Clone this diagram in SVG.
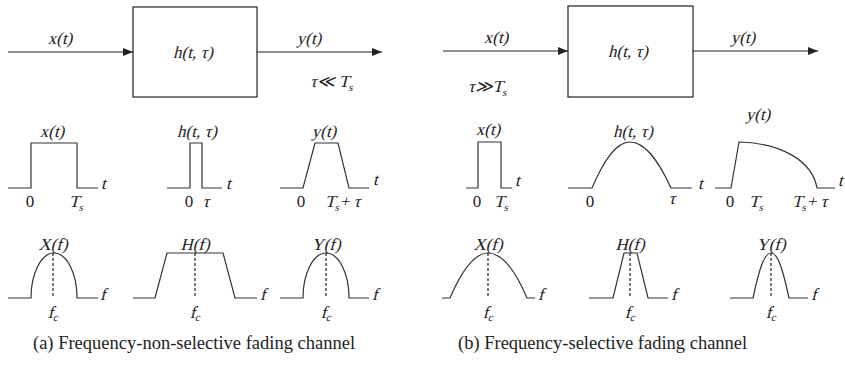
<svg xmlns="http://www.w3.org/2000/svg" width="845" height="375" viewBox="0 0 845 375">
<style>
.bg{fill:#fff}
.ln{fill:none;stroke:#222;stroke-width:1.2}
.sg{fill:none;stroke:#333;stroke-width:1.2}
.ds{fill:none;stroke:#222;stroke-width:1.2;stroke-dasharray:3,2}
.box{fill:#fff;stroke:#222;stroke-width:1.2}
text{font-family:'Liberation Serif','DejaVu Serif',serif;fill:#222}
.it{font-size:17px}
.rm{font-size:17px}
.cap{font-size:18.5px}
.sub{font-size:11px}
.m{text-anchor:middle}
</style>
<defs>
<marker id="arr" viewBox="0 0 10 8" refX="10" refY="4" markerWidth="10" markerHeight="8" markerUnits="userSpaceOnUse" orient="auto">
<path d="M0,0 L10,4 L0,8 Z" fill="#222"/>
</marker>
</defs>
<rect class="bg" x="0" y="0" width="845" height="375"/>

<g id="connectors">
<line class="ln" x1="8" y1="52" x2="133" y2="52" marker-end="url(#arr)"/>
<line class="ln" x1="257" y1="52" x2="382" y2="52" marker-end="url(#arr)"/>
<line class="ln" x1="443" y1="51" x2="568" y2="51" marker-end="url(#arr)"/>
<line class="ln" x1="693" y1="51" x2="818" y2="51" marker-end="url(#arr)"/>
</g>

<g id="channel-a">
<rect class="box" x="133" y="7" width="124" height="90"/>
<text class="it m" transform="translate(193,58) skewX(-14)">h(t, τ)</text>
</g>
<g id="channel-b">
<rect class="box" x="568" y="6" width="125" height="91"/>
<text class="it m" transform="translate(628,57) skewX(-14)">h(t, τ)</text>
</g>

<g id="labels-top">
<text class="it m" transform="translate(60,44) skewX(-14)">x(t)</text>
<text class="it m" transform="translate(309,44) skewX(-14)">y(t)</text>
<text class="it" transform="translate(310,87) skewX(-14)">τ≪ T<tspan class="sub" dy="4">s</tspan></text>
<text class="it" transform="translate(468,92) skewX(-14)">τ≫T<tspan class="sub" dy="4">s</tspan></text>
<text class="it m" transform="translate(496,43) skewX(-14)">x(t)</text>
<text class="it m" transform="translate(743,43) skewX(-14)">y(t)</text>
</g>

<g id="time-a">
<path class="sg" d="M8,188 H31 V143 H77 V188 H98"/>
<text class="it m" transform="translate(52,137) skewX(-14)">x(t)</text>
<text class="it" transform="translate(101,189) skewX(-14)">t</text>
<text class="rm m" x="30" y="207">0</text>
<text class="it" transform="translate(69,207) skewX(-14)">T<tspan class="sub" dy="4">s</tspan></text>

<path class="sg" d="M167,188 H190 V143 H202 V188 H222"/>
<text class="it m" transform="translate(197,137) skewX(-14)">h(t, τ)</text>
<text class="it" transform="translate(226,189) skewX(-14)">t</text>
<text class="rm m" x="189" y="207">0</text>
<text class="it m" transform="translate(206,207) skewX(-14)">τ</text>

<path class="sg" d="M280,188 H303 L315,143 H338 L349,188 H369"/>
<text class="it m" transform="translate(324,137) skewX(-14)">y(t)</text>
<text class="it" transform="translate(373,185) skewX(-14)">t</text>
<text class="rm m" x="301" y="207">0</text>
<text class="it" transform="translate(325,207) skewX(-14)">T<tspan class="sub" dy="4">s</tspan><tspan dy="-4">+ </tspan>τ</text>
</g>

<g id="time-b">
<path class="sg" d="M466,188 H478 V142 H501 V188 H512"/>
<text class="it m" transform="translate(488,135) skewX(-14)">x(t)</text>
<text class="it" transform="translate(515,186) skewX(-14)">t</text>
<text class="rm m" x="477" y="207">0</text>
<text class="it" transform="translate(494,207) skewX(-14)">T<tspan class="sub" dy="4">s</tspan></text>

<path class="sg" d="M568,188 H592 C604,160 616,142 630,142 C645,142 658,160 671,188 H692"/>
<text class="it m" transform="translate(633,137) skewX(-14)">h(t, τ)</text>
<text class="it" transform="translate(698,189) skewX(-14)">t</text>
<text class="rm m" x="590" y="207">0</text>
<text class="it m" transform="translate(672,204) skewX(-14)">τ</text>

<path class="sg" d="M715,188 H731 L739,142 C780,143 812,160 817,188 H835"/>
<text class="it m" transform="translate(758,120) skewX(-14)">y(t)</text>
<text class="it" transform="translate(838,186) skewX(-14)">t</text>
<text class="rm m" x="730" y="207">0</text>
<text class="it" transform="translate(749,207) skewX(-14)">T<tspan class="sub" dy="4">s</tspan></text>
<text class="it" transform="translate(792,207) skewX(-14)">T<tspan class="sub" dy="4">s</tspan><tspan dy="-4">+ </tspan>τ</text>
</g>

<g id="freq-a">
<path class="sg" d="M8,298 H31 A23,45 0 0 1 77,298 H98"/>
<line class="ds" x1="53" y1="253" x2="53" y2="298"/>
<text class="it m" transform="translate(53,250) skewX(-14)">X(f)</text>
<text class="it" transform="translate(100,300) skewX(-14)">f</text>
<text class="it m" transform="translate(53,318) skewX(-14)">f<tspan class="sub" dy="3">c</tspan></text>

<path class="sg" d="M133,298 H155 L167,253 H223 L235,298 H257"/>
<line class="ds" x1="195" y1="253" x2="195" y2="298"/>
<text class="it m" transform="translate(195,250) skewX(-14)">H(f)</text>
<text class="it" transform="translate(260,300) skewX(-14)">f</text>
<text class="it m" transform="translate(195,318) skewX(-14)">f<tspan class="sub" dy="3">c</tspan></text>

<path class="sg" d="M280,298 H303 A23,45 0 0 1 349,298 H369"/>
<line class="ds" x1="326" y1="253" x2="326" y2="298"/>
<text class="it m" transform="translate(326,250) skewX(-14)">Y(f)</text>
<text class="it" transform="translate(372,300) skewX(-14)">f</text>
<text class="it m" transform="translate(326,318) skewX(-14)">f<tspan class="sub" dy="3">c</tspan></text>
</g>

<g id="freq-b">
<path class="sg" d="M442,298 H450 C462,270 474,253 488,253 C502,253 515,270 527,298 H535"/>
<line class="ds" x1="488" y1="253" x2="488" y2="298"/>
<text class="it m" transform="translate(488,250) skewX(-14)">X(f)</text>
<text class="it" transform="translate(538,300) skewX(-14)">f</text>
<text class="it m" transform="translate(488,318) skewX(-14)">f<tspan class="sub" dy="3">c</tspan></text>

<path class="sg" d="M589,298 H613 L624,253 H637 L648,298 H668"/>
<line class="ds" x1="630" y1="253" x2="630" y2="298"/>
<text class="it m" transform="translate(630,250) skewX(-14)">H(f)</text>
<text class="it" transform="translate(671,300) skewX(-14)">f</text>
<text class="it m" transform="translate(630,318) skewX(-14)">f<tspan class="sub" dy="3">c</tspan></text>

<path class="sg" d="M730,298 H753 C759,270 764,253 771,253 C778,253 783,270 789,298 H808"/>
<line class="ds" x1="771" y1="253" x2="771" y2="298"/>
<text class="it m" transform="translate(771,250) skewX(-14)">Y(f)</text>
<text class="it" transform="translate(811,300) skewX(-14)">f</text>
<text class="it m" transform="translate(771,318) skewX(-14)">f<tspan class="sub" dy="3">c</tspan></text>
</g>

<g id="captions">
<text class="cap" x="33" y="349">(a) Frequency-non-selective fading channel</text>
<text class="cap" x="458" y="349">(b) Frequency-selective fading channel</text>
</g>
</svg>
